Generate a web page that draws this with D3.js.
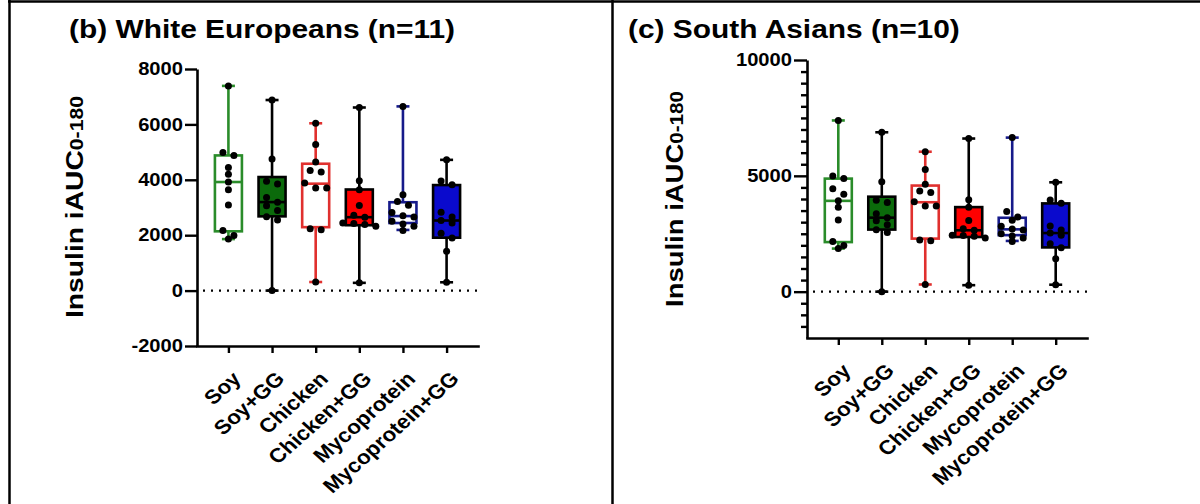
<!DOCTYPE html>
<html>
<head>
<meta charset="utf-8">
<script src="https://cdn.jsdelivr.net/npm/d3@7"></script>
<style>
    html, body { margin: 0; padding: 0; background: #fff; }
    svg { display: block; font-family: "Liberation Sans", Arial, sans-serif; }
</style>
</head>
<body>
<svg id="fig" width="1200" height="504"></svg>
<script>
// ============================================
// Data
// ============================================
const categories = ['Soy', 'Soy+GG', 'Chicken', 'Chicken+GG', 'Mycoprotein', 'Mycoprotein+GG'];

// individual values per meal
const soyPoints = [1860, 1990, 2170, 3090, 3640, 3920, 4200, 4440, 4880, 4990, 7390];
const soyGGPoints = [0, 2550, 2670, 2890, 3060, 3190, 3360, 3850, 3950, 4750, 6880];
const chickenPoints = [310, 2200, 2230, 3700, 3700, 3880, 4280, 4340, 4640, 5270, 6040];
const chickenGGPoints = [280, 2320, 2390, 2420, 2440, 2650, 2720, 3070, 3640, 3970, 6610];
const mycoPoints = [2170, 2320, 2400, 2500, 2660, 2700, 2820, 3080, 3220, 3460, 6650];
const mycoGGPoints = [300, 1420, 1900, 2070, 2440, 2530, 2660, 2830, 3820, 3960, 4720];

// box summaries (min, Q1, median, Q3, max)
const boxMin = [1860, 0, 310, 280, 2190, 300];
const boxQ1 = [2140, 2680, 2290, 2360, 2440, 1910];
const boxMedian = [3920, 3195, 3860, 2650, 2690, 2530];
const boxQ3 = [4880, 4100, 4580, 3650, 3190, 3810];
const boxMax = [7390, 6880, 6040, 6610, 6650, 4720];

// axis ticks
const leftTicks = [-2000, 0, 2000, 4000, 6000, 8000];
const rightTicks = [0, 5000, 10000];
const rightMinorTicks = [-1500, -1000, -500, 500, 1000, 1500, 2000, 2500, 3000, 3500, 4000, 4500,
    5500, 6000, 6500, 7000, 7500, 8000, 8500, 9000, 9500];

const allPoints = [soyPoints, soyGGPoints, chickenPoints, chickenGGPoints, mycoPoints, mycoGGPoints];

// Styles per meal
const STYLE = {
    'Soy':            { fill: '#ffffff', stroke: '#2a8c2a', whisker: '#2a8c2a' },
    'Soy+GG':         { fill: '#0b6a0b', stroke: '#000000', whisker: '#000000' },
    'Chicken':        { fill: '#ffffff', stroke: '#e0302e', whisker: '#e0302e' },
    'Chicken+GG':     { fill: '#ff0000', stroke: '#000000', whisker: '#000000' },
    'Mycoprotein':    { fill: '#ffffff', stroke: '#161a8a', whisker: '#161a8a' },
    'Mycoprotein+GG': { fill: '#0a0acd', stroke: '#000000', whisker: '#000000' },
};

const SX = 1.12;       // horizontal stretch of the original artwork text
const FONT = '"Liberation Sans", Arial, sans-serif';

const svg = d3.select('#fig');

// ============================================
// Table borders
// ============================================
svg.append('line').attr('x1', 8).attr('x2', 1200).attr('y1', 1.5).attr('y2', 1.5)
    .attr('stroke', '#000').attr('stroke-width', 2.5);
svg.append('line').attr('x1', 9.5).attr('x2', 9.5).attr('y1', 0).attr('y2', 504)
    .attr('stroke', '#000').attr('stroke-width', 2.5);
svg.append('line').attr('x1', 612.5).attr('x2', 612.5).attr('y1', 0).attr('y2', 504)
    .attr('stroke', '#000').attr('stroke-width', 2.5);

// ============================================
// Simple row-based beeswarm (GraphPad-like)
// ============================================
function swarm(values, y, step) {
    const items = values.map((v) => ({ v, py: y(v) })).sort((a, b) => a.py - b.py);
    const rows = [];
    items.forEach((d) => {
        const last = rows[rows.length - 1];
        if (last && d.py - last[0].py < 6) last.push(d);
        else rows.push([d]);
    });
    rows.forEach((row) => {
        row.forEach((d, i) => { d.dx = (i - (row.length - 1) / 2) * step; });
    });
    return items;
}

// ============================================
// One panel
// ============================================
function drawPanel(cfg) {
    const g = svg.append('g');

    const x = d3.scalePoint().domain(categories).range([cfg.x0, cfg.x1]).padding(0.72);
    const y = d3.scaleLinear().domain(cfg.domain).range([cfg.yBottom, cfg.yTop]);

    // title
    g.append('text')
        .attr('transform', `translate(${cfg.titleX}, 38) scale(1.15, 1)`)
        .attr('font-family', FONT)
        .attr('font-size', 26)
        .attr('font-weight', 700)
        .attr('fill', '#000')
        .text(cfg.title);

    // y label
    const yl = g.append('text')
        .attr('transform', `translate(${cfg.labelX}, ${cfg.labelY}) rotate(-90)`)
        .attr('text-anchor', 'middle')
        .attr('dy', '0.35em')
        .attr('font-family', FONT)
        .attr('font-weight', 700)
        .attr('font-size', 24)
        .attr('fill', '#000')
        .attr('textLength', cfg.labelLen)
        .attr('lengthAdjust', 'spacingAndGlyphs');
    yl.append('tspan').text('Insulin iAUC');
    yl.append('tspan').attr('font-size', 18).text('0-180');

    // zero reference line
    g.append('line')
        .attr('x1', cfg.x0 + 6).attr('x2', cfg.x1)
        .attr('y1', y(0)).attr('y2', y(0))
        .attr('stroke', '#000')
        .attr('stroke-width', 2.2)
        .attr('stroke-dasharray', '2,6');

    // boxes
    const data = categories.map((c, i) => ({
        c, min: boxMin[i], q1: boxQ1[i], med: boxMedian[i], q3: boxQ3[i], max: boxMax[i], pts: allPoints[i],
    }));
    const half = 13.5;
    const cap = 6.5;

    const bg = g.selectAll('g.box').data(data).join('g').attr('class', 'box')
        .attr('transform', (d) => `translate(${x(d.c)}, 0)`);

    bg.append('line')
        .attr('x1', 0).attr('x2', 0)
        .attr('y1', (d) => y(d.min)).attr('y2', (d) => y(d.max))
        .attr('stroke', (d) => STYLE[d.c].whisker).attr('stroke-width', 2.6);
    bg.append('line')
        .attr('x1', -cap).attr('x2', cap)
        .attr('y1', (d) => y(d.max)).attr('y2', (d) => y(d.max))
        .attr('stroke', (d) => STYLE[d.c].whisker).attr('stroke-width', 2.6);
    bg.append('line')
        .attr('x1', -cap).attr('x2', cap)
        .attr('y1', (d) => y(d.min)).attr('y2', (d) => y(d.min))
        .attr('stroke', (d) => STYLE[d.c].whisker).attr('stroke-width', 2.6);
    bg.append('rect')
        .attr('x', -half).attr('width', half * 2)
        .attr('y', (d) => y(d.q3))
        .attr('height', (d) => y(d.q1) - y(d.q3))
        .attr('fill', (d) => STYLE[d.c].fill)
        .attr('stroke', (d) => STYLE[d.c].stroke)
        .attr('stroke-width', 2.6);
    bg.append('line')
        .attr('x1', -half).attr('x2', half)
        .attr('y1', (d) => y(d.med)).attr('y2', (d) => y(d.med))
        .attr('stroke', (d) => STYLE[d.c].stroke).attr('stroke-width', 2.6);

    bg.each(function (d) {
        d3.select(this).selectAll('circle')
            .data(swarm(d.pts, y, 11))
            .join('circle')
            .attr('cx', (p) => p.dx)
            .attr('cy', (p) => p.py)
            .attr('r', 3.5)
            .attr('fill', '#000');
    });

    // y axis
    const yAxis = g.append('g')
        .attr('transform', `translate(${cfg.x0}, 0)`)
        .call(d3.axisLeft(y).tickValues(cfg.ticks).tickSize(cfg.tickLen).tickSizeOuter(0).tickFormat((d) => String(d)));
    if (cfg.minor) {
        g.append('g')
            .attr('transform', `translate(${cfg.x0}, 0)`)
            .call(d3.axisLeft(y).tickValues(cfg.minor).tickSize(6).tickFormat(''))
            .call((a) => a.select('.domain').remove())
            .selectAll('line').attr('stroke', '#000').attr('stroke-width', 2.4);
    }
    yAxis.select('.domain').attr('stroke', '#000').attr('stroke-width', 2.6);
    yAxis.selectAll('.tick line').attr('stroke', '#000').attr('stroke-width', 2.4);
    yAxis.selectAll('.tick text')
        .attr('x', 0)
        .attr('transform', `translate(${-(cfg.tickLen + 2)}, 0) scale(${SX}, 1)`)
        .attr('font-family', FONT)
        .attr('font-size', 18)
        .attr('font-weight', 700)
        .attr('fill', '#000');

    // x axis
    const xAxis = g.append('g')
        .attr('transform', `translate(0, ${cfg.yBottom})`)
        .call(d3.axisBottom(x).tickSize(7).tickSizeOuter(0));
    xAxis.select('.domain').attr('stroke', '#000').attr('stroke-width', 2.6).attr('stroke-linecap', 'square');
    xAxis.selectAll('.tick line').attr('stroke', '#000').attr('stroke-width', 2.4);
    xAxis.selectAll('.tick text')
        .attr('x', 0).attr('y', 0)
        .attr('dy', '0.71em')
        .attr('text-anchor', 'end')
        .attr('transform', `translate(2, 24) scale(${SX}, 1) rotate(-45)`)
        .attr('font-family', FONT)
        .attr('font-size', 20)
        .attr('font-weight', 700)
        .attr('fill', '#000');
}

drawPanel({
    x0: 197, x1: 478, yTop: 69, yBottom: 346,
    domain: [-2000, 8000], ticks: leftTicks, tickLen: 12, minor: null,
    title: '(b) White Europeans (n=11)', titleX: 69,
    labelX: 75, labelY: 207, labelLen: 222,
});

drawPanel({
    x0: 807, x1: 1087, yTop: 60, yBottom: 338,
    domain: [-2000, 10000], ticks: rightTicks, tickLen: 13, minor: rightMinorTicks,
    title: '(c) South Asians (n=10)', titleX: 628,
    labelX: 675, labelY: 199, labelLen: 216,
});
</script>
</body>
</html>
